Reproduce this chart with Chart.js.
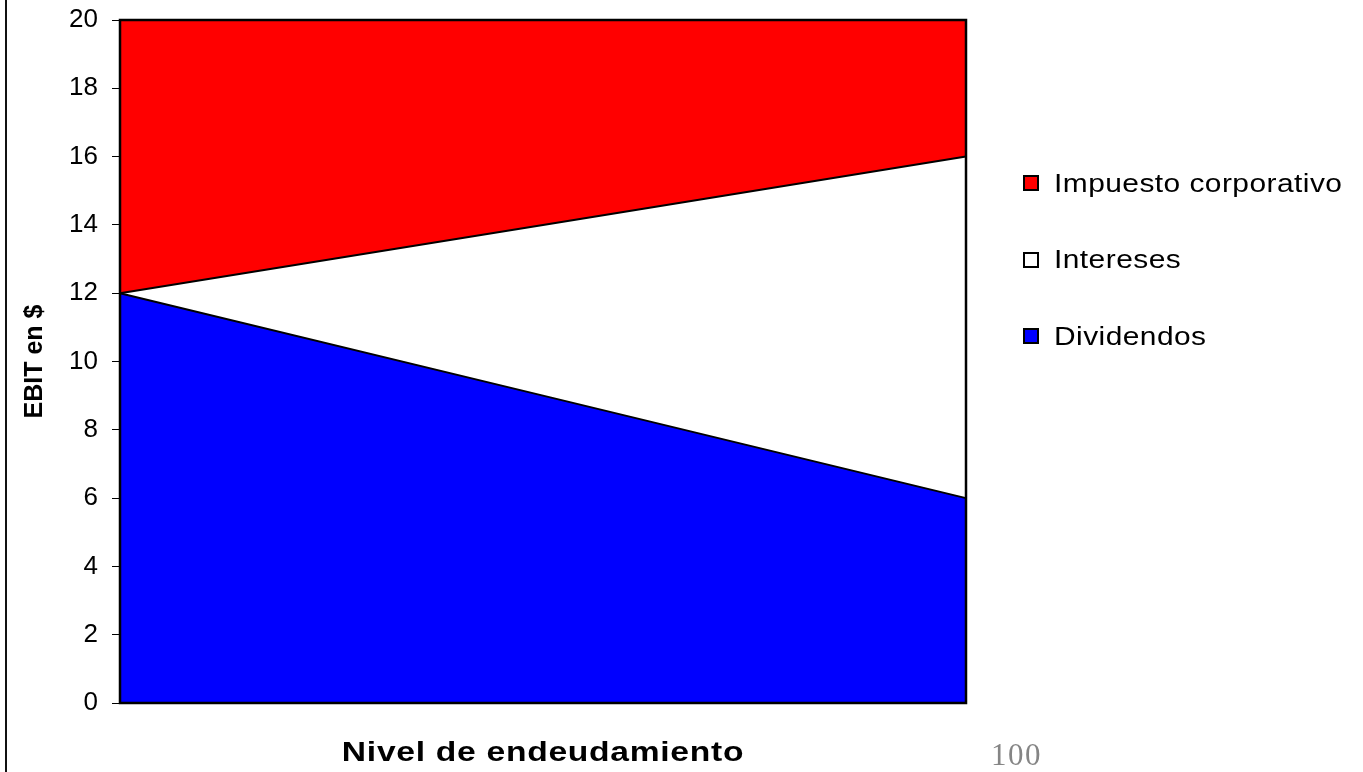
<!DOCTYPE html>
<html lang="es">
<head>
<meta charset="utf-8">
<title>EBIT y nivel de endeudamiento</title>
<script src="https://cdn.jsdelivr.net/npm/chart.js@4/dist/chart.umd.min.js"></script>
<style>
  html, body { margin: 0; padding: 0; background: #fff; }
  #stage { position: relative; width: 1363px; height: 772px; overflow: hidden; }
  #chart { position: absolute; left: 0; top: 0; }
  .frame-line { position: absolute; left: 5px; top: 0; width: 2px; height: 772px; background: #111; }
  .legend-row {
    position: absolute; left: 1023px; height: 30px;
    display: flex; align-items: center;
    font: 26px Arial, "Liberation Sans", sans-serif; color: #000;
  }
  .legend-box { width: 12px; height: 12px; border: 2px solid #000; margin-right: 15px; }
  .legend-text { display: inline-block; letter-spacing: 0.4px; transform: scaleX(1.15); transform-origin: left center; white-space: nowrap; }
  .slide-num {
    position: absolute; left: 991px; top: 737px; line-height: 1;
    font: 31px "Liberation Serif", "Times New Roman", serif; letter-spacing: 1.5px; color: #858585;
  }
</style>
</head>
<body>
<div id="stage">
  <div class="frame-line"></div>
  <canvas id="chart" width="1363" height="772"></canvas>
  <div id="legend"></div>
  <div class="slide-num">100</div>
</div>
<script>
// ─── DATA ───
const levels = ['0%', '50%', '100%'];
const dividendos = [12, 9, 6];
const intereses = [0, 5, 10];
const impuesto = [8, 6, 4];
const yTicks = [0, 2, 4, 6, 8, 10, 12, 14, 16, 18, 20];

const seriesNames = ['Dividendos', 'Intereses', 'Impuesto corporativo'];
const seriesColors = ['#0000ff', '#ffffff', '#ff0000'];

// box round the plot area
const plotFrame = {
    id: 'plotFrame',
    afterDatasetsDraw(chart) {
        const { ctx, chartArea: a } = chart;
        ctx.save();
        ctx.strokeStyle = '#000';
        ctx.lineWidth = 2.5;
        ctx.strokeRect(a.left, a.top, a.right - a.left, a.bottom - a.top);
        ctx.restore();
    }
};

// the x title in the picture is drawn wide
const wideXTitle = {
    id: 'wideXTitle',
    beforeDraw(chart) {
        const s = chart.scales.x;
        if (!s || s._wide) return;
        const draw = s.drawTitle;
        s.drawTitle = function () {
            const ctx = this.ctx;
            const cx = (this.left + this.right) / 2;
            ctx.save();
            ctx.translate(cx, 0);
            ctx.scale(1.2, 1);
            ctx.translate(-cx, 0);
            ctx.letterSpacing = '0.6px';
            draw.call(this);
            ctx.restore();
        };
        s._wide = true;
    }
};

const valuesList = [dividendos, intereses, impuesto];

new Chart(document.getElementById('chart'), {
    type: 'line',
    data: {
        labels: levels,
        datasets: valuesList.map((vals, i) => ({
            label: seriesNames[i],
            data: vals,
            backgroundColor: seriesColors[i],
            borderColor: '#000',
            borderWidth: 2,
            pointRadius: 0,
            tension: 0,
            fill: i === 0 ? 'origin' : '-1'
        }))
    },
    options: {
        responsive: false,
        animation: false,
        layout: { padding: { top: 20, right: 397, left: 0, bottom: 0 } },
        plugins: { legend: { display: false }, tooltip: { enabled: false } },
        scales: {
            x: {
                offset: false,
                grid: { display: false, drawTicks: false },
                border: { display: false },
                ticks: { display: false },
                title: {
                    display: true,
                    text: 'Nivel de endeudamiento',
                    color: '#000',
                    font: { family: 'Arial, "Liberation Sans", sans-serif', size: 28, weight: 'bold', lineHeight: 1.2 },
                    padding: { top: 33.4, bottom: 2 }
                }
            },
            y: {
                stacked: true,
                min: yTicks[0],
                max: yTicks[yTicks.length - 1],
                afterFit(scale) {
                    scale.width = 120;
                    scale.paddingTop = 0;
                    scale.paddingBottom = 0;
                },
                grid: { drawOnChartArea: false, color: '#000', tickLength: 8, tickColor: '#000' },
                border: { display: false },
                ticks: {
                    stepSize: yTicks[1] - yTicks[0],
                    padding: 14,
                    color: '#000',
                    font: { family: 'Arial, "Liberation Sans", sans-serif', size: 26 }
                },
                title: {
                    display: true,
                    text: 'EBIT en $',
                    color: '#000',
                    font: { family: 'Arial, "Liberation Sans", sans-serif', size: 25, weight: 'bold', lineHeight: 1.2 },
                    padding: { top: 20, bottom: 0 }
                }
            }
        }
    },
    plugins: [plotFrame, wideXTitle]
});

// ─── LEGEND (top to bottom as in the picture) ───
const legendTops = [168, 244.5, 321];
const legend = document.getElementById('legend');
legend.innerHTML = [2, 1, 0].map((k, row) => `
    <div class="legend-row" style="top:${legendTops[row]}px">
        <span class="legend-box" style="background:${seriesColors[k]}"></span>
        <span class="legend-text">${seriesNames[k]}</span>
    </div>
`).join('');
</script>
</body>
</html>
